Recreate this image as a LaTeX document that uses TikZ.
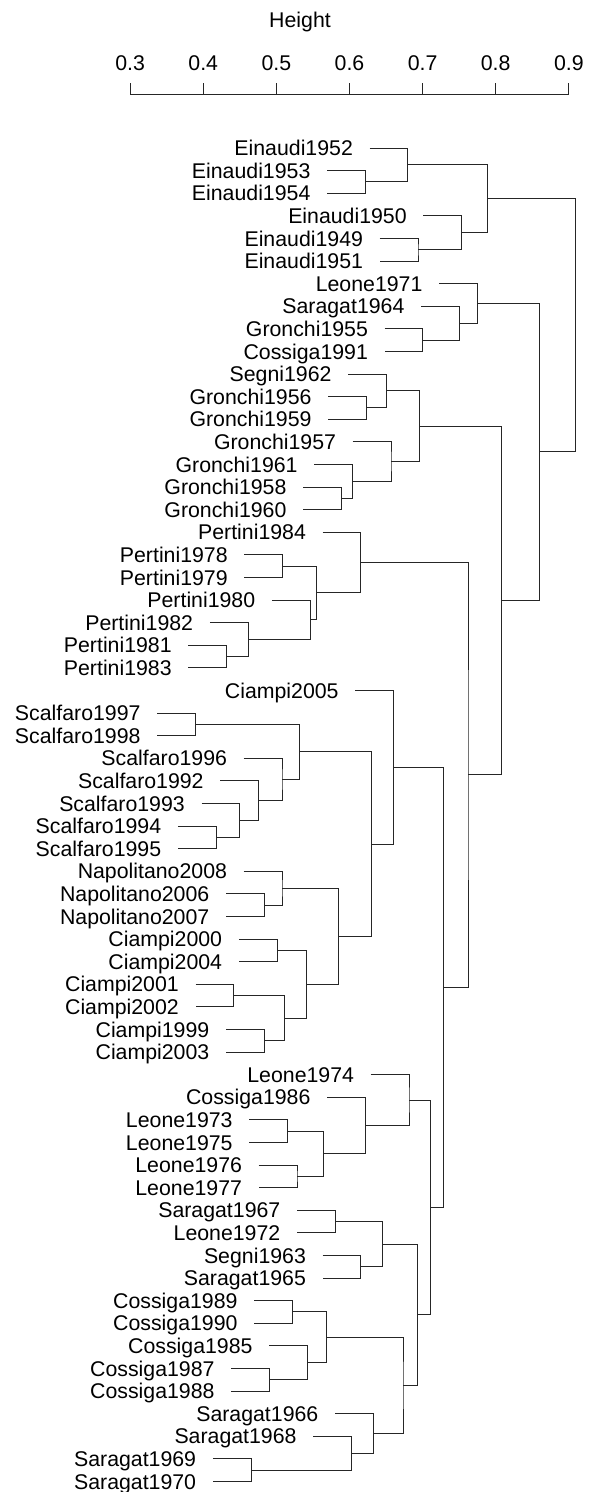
\documentclass[tikz,border=0pt]{standalone}
\usepackage{fontspec}
\setmainfont{Liberation Sans}
\usepackage{tikz}

\begin{document}
\begin{tikzpicture}[x=1pt, y=-22.6pt,
  lbl/.style={font=\fontsize{21.3}{24}\selectfont, text height=15.2pt, text depth=0pt, inner ysep=0pt},
  leaf/.style={lbl, anchor=east, inner xsep=16.5pt},
  br/.style={draw=black!85, line width=1pt}]
  \useasboundingbox (0,-6.549) rectangle (590,59.469);

  % Height axis
  \node[lbl] (ht) at (300,-5.664) {Height};
  \draw[br] (130.1,-2.358) -- (568.8,-2.358);
  \foreach \t [count=\k from 0] in {0.3,0.4,0.5,0.6,0.7,0.8,0.9} {
    \draw[br] ({130.1+73.12*\k},-2.358) -- ({130.1+73.12*\k},-2.858);
    \node[lbl] (tk\k) at ({130.1+73.12*\k},-3.748) {\t};
  }

  % Leaves
  \node[leaf] (ei52) at (369.6,0) {Einaudi1952};
  \node[leaf] (ei53) at (327.1,1) {Einaudi1953};
  \node[leaf] (ei54) at (327.1,2) {Einaudi1954};
  \node[leaf] (ei50) at (423.4,3) {Einaudi1950};
  \node[leaf] (ei49) at (379.7,4) {Einaudi1949};
  \node[leaf] (ei51) at (379.7,5) {Einaudi1951};
  \node[leaf] (le71) at (439.1,6) {Leone1971};
  \node[leaf] (sa64) at (421.1,7) {Saragat1964};
  \node[leaf] (gr55) at (384.6,8) {Gronchi1955};
  \node[leaf] (co91) at (384.6,9) {Cossiga1991};
  \node[leaf] (se62) at (348.2,10) {Segni1962};
  \node[leaf] (gr56) at (328.2,11) {Gronchi1956};
  \node[leaf] (gr59) at (328.2,12) {Gronchi1959};
  \node[leaf] (gr57) at (352.7,13) {Gronchi1957};
  \node[leaf] (gr61) at (314.3,14) {Gronchi1961};
  \node[leaf] (gr58) at (303.1,15) {Gronchi1958};
  \node[leaf] (gr60) at (303.1,16) {Gronchi1960};
  \node[leaf] (pe84) at (322.6,17) {Pertini1984};
  \node[leaf] (pe78) at (244.4,18) {Pertini1978};
  \node[leaf] (pe79) at (244.4,19) {Pertini1979};
  \node[leaf] (pe80) at (271.9,20) {Pertini1980};
  \node[leaf] (pe82) at (209.8,21) {Pertini1982};
  \node[leaf] (pe81) at (188.4,22) {Pertini1981};
  \node[leaf] (pe83) at (188.4,23) {Pertini1983};
  \node[leaf] (ci05) at (355.3,24) {Ciampi2005};
  \node[leaf] (sc97) at (157.2,25) {Scalfaro1997};
  \node[leaf] (sc98) at (157.2,26) {Scalfaro1998};
  \node[leaf] (sc96) at (243.7,27) {Scalfaro1996};
  \node[leaf] (sc92) at (220.3,28) {Scalfaro1992};
  \node[leaf] (sc93) at (201.5,29) {Scalfaro1993};
  \node[leaf] (sc94) at (177.9,30) {Scalfaro1994};
  \node[leaf] (sc95) at (177.9,31) {Scalfaro1995};
  \node[leaf] (na08) at (243.7,32) {Napolitano2008};
  \node[leaf] (na06) at (226.0,33) {Napolitano2006};
  \node[leaf] (na07) at (226.0,34) {Napolitano2007};
  \node[leaf] (ci00) at (238.8,35) {Ciampi2000};
  \node[leaf] (ci04) at (238.8,36) {Ciampi2004};
  \node[leaf] (ci01) at (195.5,37) {Ciampi2001};
  \node[leaf] (ci02) at (195.5,38) {Ciampi2002};
  \node[leaf] (ci99) at (226.0,39) {Ciampi1999};
  \node[leaf] (ci03) at (226.0,40) {Ciampi2003};
  \node[leaf] (le74) at (370.7,41) {Leone1974};
  \node[leaf] (co86) at (327.1,42) {Cossiga1986};
  \node[leaf] (le73) at (249.3,43) {Leone1973};
  \node[leaf] (le75) at (249.3,44) {Leone1975};
  \node[leaf] (le76) at (258.7,45) {Leone1976};
  \node[leaf] (le77) at (258.7,46) {Leone1977};
  \node[leaf] (sa67) at (297.0,47) {Saragat1967};
  \node[leaf] (le72) at (297.0,48) {Leone1972};
  \node[leaf] (se63) at (322.6,49) {Segni1963};
  \node[leaf] (sa65) at (322.6,50) {Saragat1965};
  \node[leaf] (co89) at (254.2,51) {Cossiga1989};
  \node[leaf] (co90) at (254.2,52) {Cossiga1990};
  \node[leaf] (co85) at (269.2,53) {Cossiga1985};
  \node[leaf] (co87) at (231.2,54) {Cossiga1987};
  \node[leaf] (co88) at (231.2,55) {Cossiga1988};
  \node[leaf] (sa66) at (335.0,56) {Saragat1966};
  \node[leaf] (sa68) at (313.2,57) {Saragat1968};
  \node[leaf] (sa69) at (212.8,58) {Saragat1969};
  \node[leaf] (sa70) at (212.8,59) {Saragat1970};

  % Einaudi branch
  \coordinate (a1) at (365.4,1.5);
  \coordinate (a2) at (407.9,0.75);
  \coordinate (a3) at (418.0,4.5);
  \coordinate (a4) at (461.7,3.75);
  \coordinate (a5) at (487.6,2.25);
  \draw[br] (ei53.east) -| (a1) |- (ei54.east);
  \draw[br] (ei52.east) -| (a2) |- (a1);
  \draw[br] (ei49.east) -| (a3) |- (ei51.east);
  \draw[br] (ei50.east) -| (a4) |- (a3);
  \draw[br] (a2) -| (a5) |- (a4);

  % Leone1971 / Saragat1964 branch
  \coordinate (b1) at (422.9,8.5);
  \coordinate (b2) at (459.4,7.75);
  \coordinate (b3) at (477.4,6.875);
  \draw[br] (gr55.east) -| (b1) |- (co91.east);
  \draw[br] (sa64.east) -| (b2) |- (b1);
  \draw[br] (le71.east) -| (b3) |- (b2);

  % Gronchi branch
  \coordinate (g1) at (366.5,11.5);
  \coordinate (g2) at (386.5,10.75);
  \coordinate (g3) at (341.4,15.5);
  \coordinate (g4) at (352.6,14.75);
  \coordinate (g5) at (391.0,13.875);
  \coordinate (g6) at (419.9,12.3125);
  \draw[br] (gr56.east) -| (g1) |- (gr59.east);
  \draw[br] (se62.east) -| (g2) |- (g1);
  \draw[br] (gr58.east) -| (g3) |- (gr60.east);
  \draw[br] (gr61.east) -| (g4) |- (g3);
  \draw[br] (gr57.east) -| (g5) |- (g4);
  \draw[br] (g2) -| (g6) |- (g5);

  % Pertini branch
  \coordinate (p1) at (282.7,18.5);
  \coordinate (p2) at (226.7,22.5);
  \coordinate (p3) at (248.1,21.75);
  \coordinate (p4) at (310.2,20.875);
  \coordinate (p5) at (316.5,19.6875);
  \coordinate (p6) at (360.9,18.34375);
  \draw[br] (pe78.east) -| (p1) |- (pe79.east);
  \draw[br] (pe81.east) -| (p2) |- (pe83.east);
  \draw[br] (pe82.east) -| (p3) |- (p2);
  \draw[br] (pe80.east) -| (p4) |- (p3);
  \draw[br] (p1) -| (p5) |- (p4);
  \draw[br] (pe84.east) -| (p6) |- (p5);

  % Scalfaro branch
  \coordinate (s1) at (195.5,25.5);
  \coordinate (s2) at (216.2,30.5);
  \coordinate (s3) at (239.8,29.75);
  \coordinate (s4) at (258.6,28.875);
  \coordinate (s5) at (282.0,27.9375);
  \coordinate (s6) at (299.6,26.71875);
  \draw[br] (sc97.east) -| (s1) |- (sc98.east);
  \draw[br] (sc94.east) -| (s2) |- (sc95.east);
  \draw[br] (sc93.east) -| (s3) |- (s2);
  \draw[br] (sc92.east) -| (s4) |- (s3);
  \draw[br] (sc96.east) -| (s5) |- (s4);
  \draw[br] (s1) -| (s6) |- (s5);

  % Napolitano / Ciampi branch
  \coordinate (n1) at (264.3,33.5);
  \coordinate (n2) at (282.0,32.75);
  \coordinate (c1) at (277.1,35.5);
  \coordinate (c2) at (233.8,37.5);
  \coordinate (c3) at (264.3,39.5);
  \coordinate (c4) at (284.6,38.5);
  \coordinate (c5) at (306.4,37);
  \coordinate (c6) at (338.3,34.875);
  \coordinate (c7) at (371.1,30.796875);
  \coordinate (c8) at (393.6,27.3984);
  \draw[br] (na06.east) -| (n1) |- (na07.east);
  \draw[br] (na08.east) -| (n2) |- (n1);
  \draw[br] (ci00.east) -| (c1) |- (ci04.east);
  \draw[br] (ci01.east) -| (c2) |- (ci02.east);
  \draw[br] (ci99.east) -| (c3) |- (ci03.east);
  \draw[br] (c2) -| (c4) |- (c3);
  \draw[br] (c1) -| (c5) |- (c4);
  \draw[br] (n2) -| (c6) |- (c5);
  \draw[br] (s6) -| (c7) |- (c6);
  \draw[br] (ci05.east) -| (c8) |- (c7);

  % Leone branch
  \coordinate (l1) at (287.6,43.5);
  \coordinate (l2) at (297.0,45.5);
  \coordinate (l3) at (323.3,44.5);
  \coordinate (l4) at (365.4,43.25);
  \coordinate (l5) at (409.0,42.125);
  \draw[br] (le73.east) -| (l1) |- (le75.east);
  \draw[br] (le76.east) -| (l2) |- (le77.east);
  \draw[br] (l1) -| (l3) |- (l2);
  \draw[br] (co86.east) -| (l4) |- (l3);
  \draw[br] (le74.east) -| (l5) |- (l4);

  % Saragat / Cossiga branch
  \coordinate (t1) at (335.3,47.5);
  \coordinate (t2) at (360.9,49.5);
  \coordinate (t3) at (382.7,48.5);
  \coordinate (k1) at (292.5,51.5);
  \coordinate (k2) at (269.5,54.5);
  \coordinate (k3) at (307.5,53.75);
  \coordinate (k4) at (326.3,52.625);
  \coordinate (v1) at (251.1,58.5);
  \coordinate (v2) at (351.5,57.75);
  \coordinate (v3) at (373.3,56.875);
  \coordinate (k5) at (403.0,54.75);
  \coordinate (t4) at (417.3,51.625);
  \coordinate (t5) at (430.5,46.875);
  \draw[br] (sa67.east) -| (t1) |- (le72.east);
  \draw[br] (se63.east) -| (t2) |- (sa65.east);
  \draw[br] (t1) -| (t3) |- (t2);
  \draw[br] (co89.east) -| (k1) |- (co90.east);
  \draw[br] (co87.east) -| (k2) |- (co88.east);
  \draw[br] (co85.east) -| (k3) |- (k2);
  \draw[br] (k1) -| (k4) |- (k3);
  \draw[br] (sa69.east) -| (v1) |- (sa70.east);
  \draw[br] (sa68.east) -| (v2) |- (v1);
  \draw[br] (sa66.east) -| (v3) |- (v2);
  \draw[br] (k4) -| (k5) |- (v3);
  \draw[br] (t3) -| (t4) |- (k5);
  \draw[br] (l5) -| (t5) |- (t4);

  % Upper merges and root
  \coordinate (m1) at (443.2,37.1367);
  \coordinate (m2) at (468.0,27.74);
  \coordinate (m3) at (501.9,20.026);
  \coordinate (m4) at (539.5,13.45);
  \coordinate (root) at (575.2,7.85);
  \draw[br] (c8) -| (m1) |- (t5);
  \draw[br] (p6) -| (m2) |- (m1);
  \draw[br] (g6) -| (m3) |- (m2);
  \draw[br] (b3) -| (m4) |- (m3);
  \draw[br] (a5) -| (root) |- (m4);
\end{tikzpicture}
\end{document}
